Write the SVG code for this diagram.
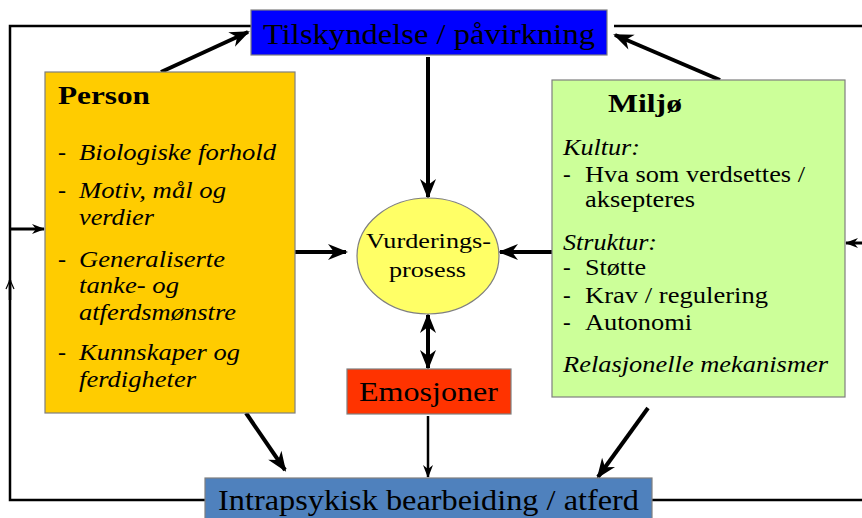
<svg xmlns="http://www.w3.org/2000/svg" width="862" height="518" viewBox="0 0 862 518">
<style>
  .box { stroke: #7f7f7f; stroke-width: 1.2; }
  text { font-family: "Liberation Serif", "DejaVu Serif", "Times New Roman", serif; fill: #000; }
  .c { stroke: #000; fill: none; }
  .thick { stroke-width: 4; }
  .mid { stroke-width: 3; }
  .thin { stroke-width: 2.5; }
  .it { font-style: italic; }
</style>
<defs>
  <marker id="ah" markerUnits="userSpaceOnUse" markerWidth="24" markerHeight="20" viewBox="-20 -10 24 20" refX="0" refY="0" orient="auto-start-reverse">
    <path d="M2,0 L-18,-8 L-12,0 L-18,8 Z" fill="#000"/>
  </marker>
  <marker id="ahs" markerUnits="userSpaceOnUse" markerWidth="16" markerHeight="14" viewBox="-14 -7 16 14" refX="0" refY="0" orient="auto">
    <path d="M1,0 L-12,-5 L-8,0 L-12,5 Z" fill="#000"/>
  </marker>
  <marker id="aho" markerUnits="userSpaceOnUse" markerWidth="14" markerHeight="12" viewBox="-12 -6 14 12" refX="0" refY="0" orient="auto">
    <path d="M-9,-4 L0,0 L-9,4" fill="none" stroke="#000" stroke-width="1.2"/>
  </marker>
</defs>

<g id="connectors">
  <polyline class="c thin" points="205,500 10,500 10,26 251,26"/>
  <line class="c thin" x1="10" y1="300" x2="10" y2="280" marker-end="url(#aho)"/>
  <line class="c mid" x1="10" y1="229" x2="44" y2="229" marker-end="url(#ahs)"/>
  <polyline class="c thin" points="652,500 862,500"/>
  <polyline class="c thin" points="614,26 862,26"/>
  <line class="c mid" x1="862" y1="243" x2="846" y2="243" marker-end="url(#ahs)"/>
  <line class="c thick" x1="161" y1="72" x2="248" y2="32" marker-end="url(#ah)"/>
  <line class="c thick" x1="720" y1="80" x2="615" y2="35" marker-end="url(#ah)"/>
  <line class="c thick" x1="428" y1="57" x2="428" y2="197" marker-end="url(#ah)"/>
  <line class="c thick" x1="295" y1="252" x2="346" y2="252" marker-end="url(#ah)"/>
  <line class="c thick" x1="552" y1="252" x2="500" y2="252" marker-end="url(#ah)"/>
  <line class="c thick" x1="428" y1="315" x2="428" y2="368" marker-start="url(#ah)" marker-end="url(#ah)"/>
  <line class="c thin" x1="428" y1="416" x2="428" y2="477" marker-end="url(#ahs)"/>
  <line class="c thick" x1="246" y1="413" x2="285" y2="470" marker-end="url(#ah)"/>
  <line class="c thick" x1="648" y1="408" x2="598" y2="477" marker-end="url(#ah)"/>
</g>

<g id="tilskyndelse">
  <rect class="box" x="251" y="10" width="356" height="45" fill="#0000FF"/>
  <text x="263" y="44" font-size="30" textLength="332" lengthAdjust="spacingAndGlyphs">Tilskyndelse / påvirkning</text>
</g>

<g id="person">
  <rect class="box" x="45" y="72" width="250" height="341" fill="#FFCC00"/>
  <text x="58" y="104" font-size="26" font-weight="bold" textLength="92" lengthAdjust="spacingAndGlyphs">Person</text>
  <g font-size="24">
    <text x="58" y="160">-</text>
    <text class="it" x="79" y="160" textLength="197" lengthAdjust="spacingAndGlyphs">Biologiske forhold</text>
    <text x="58" y="198">-</text>
    <text class="it" x="79" y="198" textLength="147" lengthAdjust="spacingAndGlyphs">Motiv, mål og</text>
    <text class="it" x="79" y="225" textLength="75" lengthAdjust="spacingAndGlyphs">verdier</text>
    <text x="58" y="267">-</text>
    <text class="it" x="79" y="267" textLength="146" lengthAdjust="spacingAndGlyphs">Generaliserte</text>
    <text class="it" x="79" y="293" textLength="100" lengthAdjust="spacingAndGlyphs">tanke- og</text>
    <text class="it" x="79" y="320" textLength="157" lengthAdjust="spacingAndGlyphs">atferdsmønstre</text>
    <text x="58" y="360">-</text>
    <text class="it" x="79" y="360" textLength="161" lengthAdjust="spacingAndGlyphs">Kunnskaper og</text>
    <text class="it" x="79" y="387" textLength="117" lengthAdjust="spacingAndGlyphs">ferdigheter</text>
  </g>
</g>

<g id="miljo">
  <rect class="box" x="552" y="80" width="293" height="317" fill="#CCFF99"/>
  <text x="608" y="112" font-size="26" font-weight="bold" textLength="74" lengthAdjust="spacingAndGlyphs">Miljø</text>
  <g font-size="23">
    <text class="it" x="563" y="155" textLength="77" lengthAdjust="spacingAndGlyphs">Kultur:</text>
    <text x="563" y="182">-</text>
    <text x="585" y="182" textLength="220" lengthAdjust="spacingAndGlyphs">Hva som verdsettes /</text>
    <text x="585" y="207" textLength="110" lengthAdjust="spacingAndGlyphs">aksepteres</text>
    <text class="it" x="563" y="250" textLength="94" lengthAdjust="spacingAndGlyphs">Struktur:</text>
    <text x="563" y="275">-</text>
    <text x="585" y="275" textLength="61" lengthAdjust="spacingAndGlyphs">Støtte</text>
    <text x="563" y="303">-</text>
    <text x="585" y="303" textLength="183" lengthAdjust="spacingAndGlyphs">Krav / regulering</text>
    <text x="563" y="330">-</text>
    <text x="585" y="330" textLength="107" lengthAdjust="spacingAndGlyphs">Autonomi</text>
    <text class="it" x="563" y="372" textLength="265" lengthAdjust="spacingAndGlyphs">Relasjonelle mekanismer</text>
  </g>
</g>

<g id="vurdering">
  <ellipse class="box" cx="428" cy="256" rx="71" ry="58" fill="#FFFF66"/>
  <text x="366" y="248" font-size="22" textLength="125" lengthAdjust="spacingAndGlyphs">Vurderings-</text>
  <text x="389" y="277" font-size="22" textLength="77" lengthAdjust="spacingAndGlyphs">prosess</text>
</g>

<g id="emosjoner">
  <rect class="box" x="347" y="369" width="164" height="45" fill="#FF3300"/>
  <text x="359" y="401" font-size="28" textLength="139" lengthAdjust="spacingAndGlyphs">Emosjoner</text>
</g>

<g id="atferd">
  <rect class="box" x="205" y="478" width="447" height="45" fill="#4F81BD"/>
  <text x="218" y="510" font-size="30" textLength="421" lengthAdjust="spacingAndGlyphs">Intrapsykisk bearbeiding / atferd</text>
</g>
</svg>
